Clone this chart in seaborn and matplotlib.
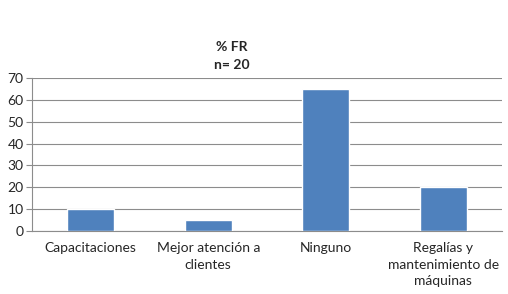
import matplotlib
matplotlib.use("Agg")
import matplotlib.pyplot as plt
import seaborn as sns
import pandas as pd

## data
categorias = ["Capacitaciones", "Mejor atención a\nclientes", "Ninguno",
              "Regalías y\nmantenimiento de\nmáquinas"]
porcentaje = [10, 5, 65, 20]
y_ticks = [0, 10, 20, 30, 40, 50, 60, 70]

df = pd.DataFrame({"cat": categorias, "fr": porcentaje})

sns.set_style("white")
plt.rcParams['font.family'] = ['Lato', 'DejaVu Sans']

fig = plt.figure(figsize=(5.08, 2.94), dpi=100)
ax = fig.add_axes([0.063, 0.214, 0.925, 0.521])

sns.barplot(data=df, x="cat", y="fr", color="#4F81BD", saturation=1,
            width=0.4, ax=ax, zorder=3)

ax.set_ylim(0, 70)
ax.set_yticks(y_ticks)
ax.yaxis.grid(True, color="#8C8C8C", linewidth=0.8, zorder=0)
ax.set_axisbelow(True)
ax.set_xlabel("")
ax.set_ylabel("")

for s in ["top", "right"]:
    ax.spines[s].set_visible(False)
for s in ["left", "bottom"]:
    ax.spines[s].set_color("#8C8C8C")
    ax.spines[s].set_linewidth(0.8)

ax.tick_params(axis="y", length=4, color="#8C8C8C", labelsize=10, pad=2,
               left=True)
ax.tick_params(axis="x", length=0, labelsize=10, pad=8)
for lbl in ax.get_xticklabels():
    lbl.set_linespacing(1.45)

fig.text(0.457, 0.81, "% FR\nn= 20", ha="center", va="center",
         fontsize=10, fontweight="bold", linespacing=1.55)

fig.savefig("out.png", dpi=100)
